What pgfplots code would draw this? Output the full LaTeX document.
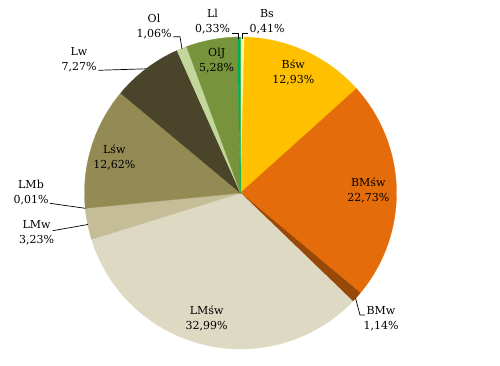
\documentclass[border=0pt]{standalone}
\usepackage{pgfplots}
\pgfplotsset{compat=1.18}
\usepackage{fontspec}
\setmainfont{DejaVu Serif}
\definecolor{cBs}{HTML}{FFFF99}
\definecolor{cBsw}{HTML}{FFC000}
\definecolor{cBMsw}{HTML}{E46C0A}
\definecolor{cBMw}{HTML}{984807}
\definecolor{cLMsw}{HTML}{DDD9C3}
\definecolor{cLMw}{HTML}{C4BD97}
\definecolor{cLMb}{HTML}{C4BD97}
\definecolor{cLsw}{HTML}{948A54}
\definecolor{cLw}{HTML}{4A452A}
\definecolor{cOl}{HTML}{C3D69B}
\definecolor{cOlJ}{HTML}{77933C}
\definecolor{cLl}{HTML}{00B050}
% #1 = cumulative percent before slice, #2 = slice percent, #3 = colour
\newcommand{\pieslice}[3]{%
  \addplot[fill=#3, draw=#3, line width=0.3pt, domain={(#1)*3.6}:{(#1+#2)*3.6}, samples=80, variable=\t, forget plot]
    ({240.5+156*sin(\t)},{193-156*cos(\t)}) -- (240.5,193) -- cycle;}
\newcommand{\lbl}{\fontsize{11}{15}\selectfont}
\begin{document}
\begin{tikzpicture}
\begin{axis}[
  scale only axis, width=500pt, height=365pt,
  xmin=0, xmax=500, ymin=0, ymax=365, y dir=reverse,
  hide axis, clip=false]
\path (rel axis cs:0,0) rectangle (rel axis cs:1,1);
\pieslice{0}{0.41}{cBs}
\pieslice{0.41}{12.93}{cBsw}
\pieslice{13.34}{22.73}{cBMsw}
\pieslice{36.07}{1.14}{cBMw}
\pieslice{37.21}{32.99}{cLMsw}
\pieslice{70.20}{3.23}{cLMw}
\pieslice{73.43}{0.01}{cLMb}
\pieslice{73.44}{12.62}{cLsw}
\pieslice{86.06}{7.27}{cLw}
\pieslice{93.33}{1.06}{cOl}
\pieslice{94.39}{5.28}{cOlJ}
\pieslice{99.67}{0.33}{cLl}
% leader lines
\addplot[black, line width=0.7pt, forget plot] coordinates {(231.7,33.3) (238.5,33.3) (238.5,38.5)};
\addplot[black, line width=0.7pt, forget plot] coordinates {(242.7,38.5) (242.7,33.3) (248.3,33.3)};
\addplot[black, line width=0.7pt, forget plot] coordinates {(173.3,36.7) (180,36.7) (182,49)};
\addplot[black, line width=0.7pt, forget plot] coordinates {(98.3,70.3) (146,68.8)};
\addplot[black, line width=0.7pt, forget plot] coordinates {(50,203.3) (85.3,208.3)};
\addplot[black, line width=0.7pt, forget plot] coordinates {(52.7,230.7) (87.8,224.5)};
\addplot[black, line width=0.7pt, forget plot] coordinates {(355.5,298) (360,315) (365,315)};
% labels
\node[align=center, font=\lbl] at (axis cs:293.3,72.5) {Bśw\\12,93\%};
\node[align=center, font=\lbl] at (axis cs:368.3,190.8) {BMśw\\22,73\%};
\node[align=center, font=\lbl] at (axis cs:206.7,318) {LMśw\\32,99\%};
\node[align=center, font=\lbl] at (axis cs:114.3,157.5) {Lśw\\12,62\%};
\node[align=center, font=\lbl] at (axis cs:216.7,60.8) {OlJ\\5,28\%};
\node[align=center, font=\lbl] at (axis cs:267,22) {Bs\\0,41\%};
\node[align=center, font=\lbl] at (axis cs:212.5,22) {Ll\\0,33\%};
\node[align=center, font=\lbl] at (axis cs:154,27) {Ol\\1,06\%};
\node[align=center, font=\lbl] at (axis cs:79,60) {Lw\\7,27\%};
\node[align=center, font=\lbl] at (axis cs:31,193) {LMb\\0,01\%};
\node[align=center, font=\lbl] at (axis cs:36.5,233) {LMw\\3,23\%};
\node[align=center, font=\lbl] at (axis cs:381,319) {BMw\\1,14\%};
\end{axis}
\end{tikzpicture}
\end{document}
